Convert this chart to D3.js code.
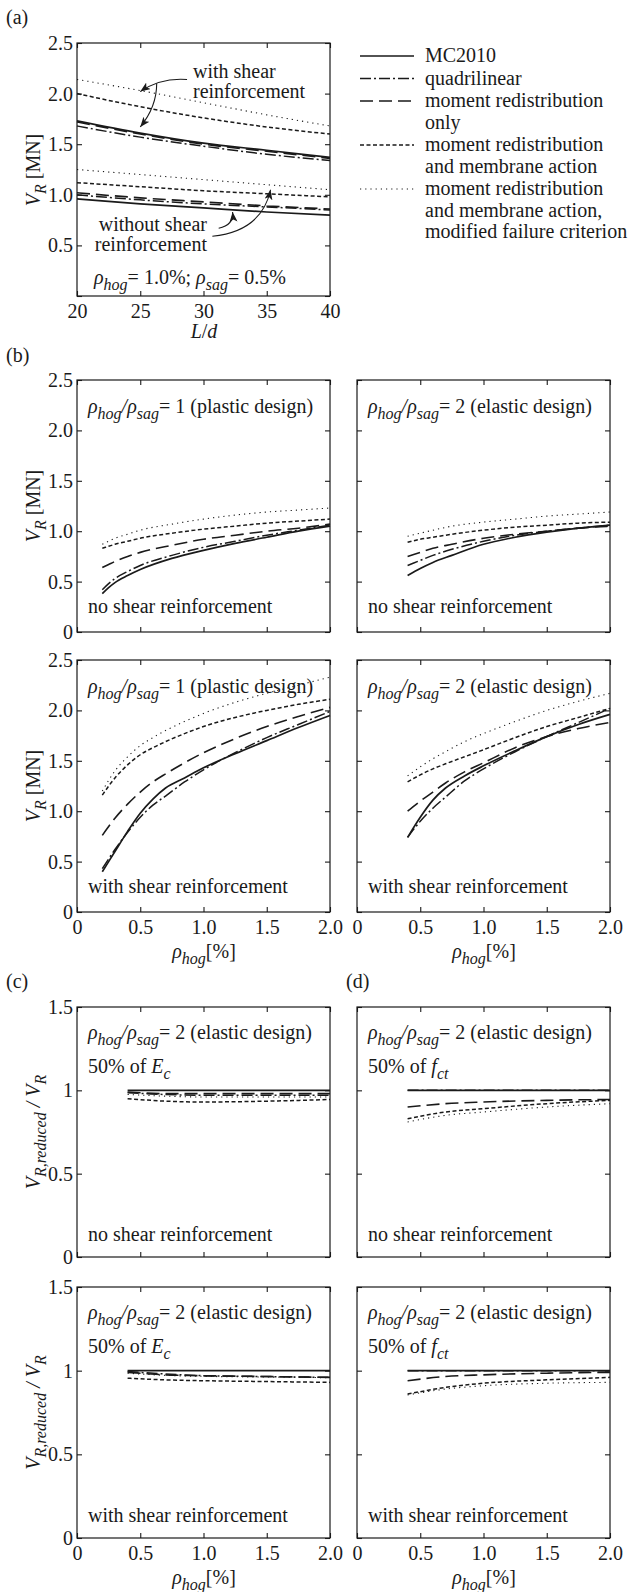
<!DOCTYPE html>
<html>
<head>
<meta charset="utf-8">
<script src="https://cdn.jsdelivr.net/npm/d3@7"></script>
<style>
body { margin: 0; background: #fff; }
svg { display: block; font-family: "Liberation Serif", "Times New Roman", serif; }
</style>
</head>
<body>
<div id="chart"></div>
<script>
// legend
const seriesKeys = ["modified", "membrane", "redis", "quad", "mc"];
const legendKeys = ["mc", "quad", "redis", "membrane", "modified"];
const legendText = [["MC2010"], ["quadrilinear"], ["moment redistribution", "only"],
  ["moment redistribution", "and membrane action"],
  ["moment redistribution", "and membrane action,", "modified failure criterion"]];

// (a) V_R vs L/d
const aX = [20, 25, 30, 35, 40];
const aWithMC = [1.73, 1.61, 1.51, 1.44, 1.37];
const aWithQuad = [1.68, 1.57, 1.48, 1.40, 1.34];
const aWithRedis = [1.72, 1.60, 1.50, 1.43, 1.36];
const aWithMembrane = [2.00, 1.87, 1.76, 1.67, 1.60];
const aWithModified = [2.14, 2.03, 1.91, 1.79, 1.68];
const aNoMC = [0.96, 0.91, 0.87, 0.83, 0.80];
const aNoQuad = [1.00, 0.95, 0.91, 0.88, 0.85];
const aNoRedis = [1.02, 0.97, 0.93, 0.89, 0.86];
const aNoMembrane = [1.12, 1.08, 1.04, 1.01, 0.98];
const aNoModified = [1.25, 1.20, 1.15, 1.10, 1.05];

// (b) top left: plastic design, no shear reinforcement
const bPlNoX = [0.2, 0.25, 0.3, 0.4, 0.5, 0.75, 1.0, 1.25, 1.5, 1.75, 2.0];
const bPlNoMC = [0.38, 0.44, 0.49, 0.56, 0.62, 0.73, 0.81, 0.88, 0.94, 1.00, 1.05];
const bPlNoQuad = [0.42, 0.48, 0.53, 0.60, 0.66, 0.76, 0.84, 0.90, 0.96, 1.01, 1.06];
const bPlNoRedis = [0.64, 0.67, 0.70, 0.75, 0.79, 0.86, 0.92, 0.96, 1.00, 1.03, 1.07];
const bPlNoMembrane = [0.83, 0.85, 0.87, 0.90, 0.93, 0.98, 1.02, 1.05, 1.08, 1.10, 1.12];
const bPlNoModified = [0.87, 0.90, 0.93, 0.97, 1.01, 1.07, 1.12, 1.16, 1.19, 1.21, 1.23];

// (b) top right: elastic design, no shear reinforcement
const bElNoX = [0.4, 0.5, 0.6, 0.75, 1.0, 1.25, 1.5, 1.75, 2.0];
const bElNoMC = [0.56, 0.63, 0.69, 0.76, 0.87, 0.94, 0.99, 1.03, 1.06];
const bElNoQuad = [0.66, 0.71, 0.76, 0.82, 0.90, 0.96, 1.00, 1.03, 1.06];
const bElNoRedis = [0.75, 0.79, 0.83, 0.87, 0.93, 0.97, 1.00, 1.03, 1.05];
const bElNoMembrane = [0.89, 0.92, 0.94, 0.97, 1.01, 1.04, 1.06, 1.08, 1.09];
const bElNoModified = [0.95, 0.98, 1.01, 1.05, 1.09, 1.12, 1.15, 1.17, 1.19];

// (b) bottom left: plastic design, with shear reinforcement
const bPlWithX = [0.2, 0.3, 0.4, 0.5, 0.6, 0.7, 0.85, 1.0, 1.25, 1.5, 1.75, 2.0];
const bPlWithMC = [0.40, 0.60, 0.80, 0.98, 1.12, 1.23, 1.33, 1.43, 1.57, 1.70, 1.83, 1.95];
const bPlWithQuad = [0.43, 0.62, 0.79, 0.94, 1.06, 1.15, 1.29, 1.41, 1.58, 1.73, 1.86, 1.99];
const bPlWithRedis = [0.76, 0.93, 1.07, 1.19, 1.29, 1.37, 1.48, 1.58, 1.72, 1.84, 1.94, 2.03];
const bPlWithMembrane = [1.16, 1.33, 1.46, 1.56, 1.63, 1.69, 1.77, 1.84, 1.93, 2.00, 2.06, 2.11];
const bPlWithModified = [1.20, 1.40, 1.54, 1.65, 1.73, 1.80, 1.89, 1.97, 2.08, 2.17, 2.25, 2.33];

// (b) bottom right: elastic design, with shear reinforcement
const bElWithX = [0.4, 0.5, 0.6, 0.7, 0.85, 1.0, 1.25, 1.5, 1.75, 2.0];
const bElWithMC = [0.74, 0.94, 1.11, 1.23, 1.35, 1.45, 1.60, 1.74, 1.86, 1.96];
const bElWithQuad = [0.74, 0.90, 1.03, 1.14, 1.30, 1.42, 1.59, 1.74, 1.88, 2.02];
const bElWithRedis = [1.00, 1.10, 1.19, 1.28, 1.39, 1.48, 1.63, 1.74, 1.82, 1.88];
const bElWithMembrane = [1.29, 1.36, 1.42, 1.47, 1.54, 1.61, 1.73, 1.84, 1.93, 2.02];
const bElWithModified = [1.35, 1.44, 1.52, 1.59, 1.69, 1.77, 1.89, 2.00, 2.09, 2.17];

// (c) and (d): ratio of reduced resistance
const cdX = [0.4, 0.7, 1.0, 1.5, 2.0];
const cNoMC = [1.0, 1.0, 1.0, 1.0, 1.0];
const cNoQuad = [0.985, 0.975, 0.97, 0.97, 0.97];
const cNoRedis = [0.99, 0.98, 0.98, 0.98, 0.98];
const cNoMembrane = [0.95, 0.935, 0.93, 0.935, 0.945];
const cNoModified = [0.975, 0.965, 0.96, 0.96, 0.96];
const cWithMC = [1.0, 1.0, 1.0, 1.0, 1.0];
const cWithQuad = [0.995, 0.98, 0.97, 0.965, 0.96];
const cWithRedis = [0.99, 0.975, 0.97, 0.965, 0.96];
const cWithMembrane = [0.955, 0.945, 0.94, 0.935, 0.93];
const cWithModified = [0.985, 0.972, 0.966, 0.962, 0.958];
const dNoMC = [1.0, 1.0, 1.0, 1.0, 1.0];
const dNoQuad = [1.0, 1.0, 1.0, 1.0, 1.0];
const dNoRedis = [0.90, 0.92, 0.93, 0.94, 0.945];
const dNoMembrane = [0.83, 0.87, 0.89, 0.92, 0.94];
const dNoModified = [0.81, 0.85, 0.87, 0.90, 0.92];
const dWithMC = [1.0, 1.0, 1.0, 1.0, 1.0];
const dWithQuad = [1.0, 1.0, 1.0, 1.0, 1.0];
const dWithRedis = [0.94, 0.965, 0.975, 0.985, 0.99];
const dWithMembrane = [0.86, 0.90, 0.925, 0.945, 0.96];
const dWithModified = [0.855, 0.89, 0.91, 0.925, 0.93];

const styles = {
  mc: { dash: null, w: 1.7 },
  quad: { dash: "11,3,2,3", w: 1.5 },
  redis: { dash: "13,6", w: 1.6 },
  membrane: { dash: "4,2.5", w: 1.5 },
  modified: { dash: "1.2,4", w: 1.1 }
};
const ink = "#1a1a1a";
const fs = 20;

const svg = d3.select("#chart").append("svg").attr("width", 633).attr("height", 1592);

svg.append("defs").append("marker")
  .attr("id", "arrow").attr("markerUnits", "userSpaceOnUse")
  .attr("markerWidth", 11).attr("markerHeight", 8)
  .attr("refX", 10).attr("refY", 4).attr("orient", "auto")
  .append("path").attr("d", "M0,0 L10,4 L0,8 L2.5,4 Z").attr("fill", ink);

// text with italic / subscript parts
function rich(sel, x, y, parts, anchor) {
  const t = sel.append("text").attr("x", x).attr("y", y)
    .attr("text-anchor", anchor || "start").attr("font-size", fs).attr("fill", ink);
  let shift = 0;
  parts.forEach(([s, kind]) => {
    const sp = t.append("tspan").text(s);
    const want = kind === "sub" ? 6 : 0;
    if (want !== shift) { sp.attr("dy", want - shift); shift = want; }
    if (kind === "i" || kind === "sub") sp.attr("font-style", "italic");
    if (kind === "sub") sp.attr("font-size", 16);
  });
  return t;
}

const f1 = d3.format(".1f");
const bFmt = d => d === 0 ? "0" : f1(d);
const cFmt = d => d === 0 ? "0" : d === 1 ? "1" : f1(d);
const aYFmt = d => d === 0 ? "" : f1(d);

function drawPanel(p) {
  const W = 253;
  const x = d3.scaleLinear().domain(p.xDomain).range([p.left, p.left + W]);
  const y = d3.scaleLinear().domain(p.yDomain).range([p.bottom, p.top]);
  const g = svg.append("g");

  const axes = [
    [d3.axisBottom(x).tickValues(p.xTicks).tickPadding(8), `translate(0,${p.bottom})`, p.xFmt],
    [d3.axisTop(x).tickValues(p.xTicks), `translate(0,${p.top})`, null],
    [d3.axisLeft(y).tickValues(p.yTicks).tickPadding(4), `translate(${p.left},0)`, p.yFmt],
    [d3.axisRight(y).tickValues(p.yTicks), `translate(${p.left + W},0)`, null]
  ];
  axes.forEach(([ax, tr, fmt]) => {
    const a = g.append("g").attr("transform", tr)
      .call(ax.tickSize(-5).tickFormat(fmt || (() => "")));
    a.select(".domain").remove();
    a.attr("font-family", null).attr("font-size", fs);
    a.selectAll("line").attr("stroke", ink).attr("stroke-width", 1.1);
    a.selectAll("text").attr("fill", ink);
  });

  g.append("rect").attr("x", p.left).attr("y", p.top)
    .attr("width", W).attr("height", p.bottom - p.top)
    .attr("fill", "none").attr("stroke", ink).attr("stroke-width", 1.2);

  const line = d3.line().x(d => x(d[0])).y(d => y(d[1])).curve(d3.curveMonotoneX);
  p.groups.forEach(grp => {
    seriesKeys.forEach(k => {
      const st = styles[k];
      g.append("path")
        .datum(grp.x.map((v, i) => [v, grp[k][i]]))
        .attr("d", line)
        .attr("fill", "none").attr("stroke", ink)
        .attr("stroke-width", st.w)
        .attr("stroke-dasharray", st.dash);
    });
  });
  return { x, y, g };
}

const rhoRatio = n => [["ρ", "i"], ["hog", "sub"], ["/", "i"], ["ρ", "i"], ["sag", "sub"], ["= " + n, ""]];
const vrLabel = [["V", "i"], ["R", "sub"], [" [MN]", ""]];
const rhoX = [["ρ", "i"], ["hog", "sub"], ["[%]", ""]];

function yTitle(parts, cy) {
  rich(svg, 0, 0, parts, "middle").attr("transform", `translate(40,${cy}) rotate(-90)`);
}

// ---------- (a)
const pa = drawPanel({
  left: 77, top: 43, bottom: 296, xDomain: [20, 40], yDomain: [0, 2.5],
  xTicks: aX, yTicks: [0, 0.5, 1, 1.5, 2, 2.5], xFmt: d3.format("d"), yFmt: aYFmt,
  groups: [
    { x: aX, mc: aWithMC, quad: aWithQuad, redis: aWithRedis, membrane: aWithMembrane, modified: aWithModified },
    { x: aX, mc: aNoMC, quad: aNoQuad, redis: aNoRedis, membrane: aNoMembrane, modified: aNoModified }
  ]
});
rich(svg, 6, 24, [["(a)", ""]]);
yTitle(vrLabel, 170);
rich(svg, 204, 338, [["L", "i"], ["/", ""], ["d", "i"]], "middle");
rich(svg, 94, 284, [["ρ", "i"], ["hog", "sub"], ["= 1.0%; ", ""], ["ρ", "i"], ["sag", "sub"], ["= 0.5%", ""]]);
rich(svg, 193, 78, [["with shear", ""]]);
rich(svg, 193, 98, [["reinforcement", ""]]);
rich(svg, 207, 231, [["without shear", ""]], "end");
rich(svg, 207, 251, [["reinforcement", ""]], "end");

const arrows = [
  [[28.7, 2.14], [26.6, 2.16], [25.0, 2.02]],
  [[26.3, 2.10], [26.3, 1.87], [25.0, 1.67]],
  [[30.7, 0.59], [34.6, 0.64], [35.3, 1.05]],
  [[31.2, 0.67], [32.4, 0.70], [32.3, 0.83]]
];
arrows.forEach(([s, c, e]) => {
  const path = d3.path();
  path.moveTo(pa.x(s[0]), pa.y(s[1]));
  path.quadraticCurveTo(pa.x(c[0]), pa.y(c[1]), pa.x(e[0]), pa.y(e[1]));
  svg.append("path").attr("d", path.toString()).attr("fill", "none")
    .attr("stroke", ink).attr("stroke-width", 1.1).attr("marker-end", "url(#arrow)");
});

// legend
let ly = 62;
legendKeys.forEach((k, i) => {
  const st = styles[k];
  svg.append("line").attr("x1", 360).attr("x2", 414).attr("y1", ly - 6).attr("y2", ly - 6)
    .attr("stroke", ink).attr("stroke-width", st.w).attr("stroke-dasharray", st.dash);
  legendText[i].forEach((s, j) => {
    rich(svg, 425, ly + j * 21.5, [[s, ""]]);
  });
  ly += (legendText[i].length - 1) * 21.5 + 22.5;
});

// ---------- (b)
rich(svg, 6, 362, [["(b)", ""]]);
const bPanels = [
  { left: 77, top: 380, bottom: 632, x: bPlNoX, mc: bPlNoMC, quad: bPlNoQuad, redis: bPlNoRedis, membrane: bPlNoMembrane, modified: bPlNoModified, n: "1 (plastic design)", note: "no shear reinforcement", lab: false },
  { left: 357, top: 380, bottom: 632, x: bElNoX, mc: bElNoMC, quad: bElNoQuad, redis: bElNoRedis, membrane: bElNoMembrane, modified: bElNoModified, n: "2 (elastic design)", note: "no shear reinforcement", lab: false },
  { left: 77, top: 660, bottom: 912, x: bPlWithX, mc: bPlWithMC, quad: bPlWithQuad, redis: bPlWithRedis, membrane: bPlWithMembrane, modified: bPlWithModified, n: "1 (plastic design)", note: "with shear reinforcement", lab: true },
  { left: 357, top: 660, bottom: 912, x: bElWithX, mc: bElWithMC, quad: bElWithQuad, redis: bElWithRedis, membrane: bElWithMembrane, modified: bElWithModified, n: "2 (elastic design)", note: "with shear reinforcement", lab: true }
];
bPanels.forEach(b => {
  drawPanel({
    left: b.left, top: b.top, bottom: b.bottom, xDomain: [0, 2], yDomain: [0, 2.5],
    xTicks: [0, 0.5, 1, 1.5, 2], yTicks: [0, 0.5, 1, 1.5, 2, 2.5],
    xFmt: b.lab ? bFmt : null, yFmt: b.left < 100 ? bFmt : null,
    groups: [b]
  });
  rich(svg, b.left + 11, b.top + 33, rhoRatio(b.n));
  rich(svg, b.left + 11, b.bottom - 19, [[b.note, ""]]);
  if (b.left < 100) yTitle(vrLabel, (b.top + b.bottom) / 2);
  if (b.lab) rich(svg, b.left + 127, 958, rhoX, "middle");
});

// ---------- (c), (d)
rich(svg, 6, 988, [["(c)", ""]]);
rich(svg, 346, 988, [["(d)", ""]]);
const cdPanels = [
  { left: 77, top: 1007, bottom: 1257, x: cdX, mc: cNoMC, quad: cNoQuad, redis: cNoRedis, membrane: cNoMembrane, modified: cNoModified, mod: [["E", "i"], ["c", "sub"]], note: "no shear reinforcement", lab: false },
  { left: 357, top: 1007, bottom: 1257, x: cdX, mc: dNoMC, quad: dNoQuad, redis: dNoRedis, membrane: dNoMembrane, modified: dNoModified, mod: [["f", "i"], ["ct", "sub"]], note: "no shear reinforcement", lab: false },
  { left: 77, top: 1287, bottom: 1538, x: cdX, mc: cWithMC, quad: cWithQuad, redis: cWithRedis, membrane: cWithMembrane, modified: cWithModified, mod: [["E", "i"], ["c", "sub"]], note: "with shear reinforcement", lab: true },
  { left: 357, top: 1287, bottom: 1538, x: cdX, mc: dWithMC, quad: dWithQuad, redis: dWithRedis, membrane: dWithMembrane, modified: dWithModified, mod: [["f", "i"], ["ct", "sub"]], note: "with shear reinforcement", lab: true }
];
cdPanels.forEach(c => {
  drawPanel({
    left: c.left, top: c.top, bottom: c.bottom, xDomain: [0, 2], yDomain: [0, 1.5],
    xTicks: [0, 0.5, 1, 1.5, 2], yTicks: [0, 0.5, 1, 1.5],
    xFmt: c.lab ? bFmt : null, yFmt: c.left < 100 ? cFmt : null,
    groups: [c]
  });
  rich(svg, c.left + 11, c.top + 32, rhoRatio("2 (elastic design)"));
  rich(svg, c.left + 11, c.top + 66, [["50% of ", ""]].concat(c.mod));
  rich(svg, c.left + 11, c.bottom - 16, [[c.note, ""]]);
  if (c.left < 100) yTitle([["V", "i"], ["R,reduced", "sub"], [" / ", "i"], ["V", "i"], ["R", "sub"]], (c.top + c.bottom) / 2);
  if (c.lab) rich(svg, c.left + 127, 1584, rhoX, "middle");
});
</script>
</body>
</html>
